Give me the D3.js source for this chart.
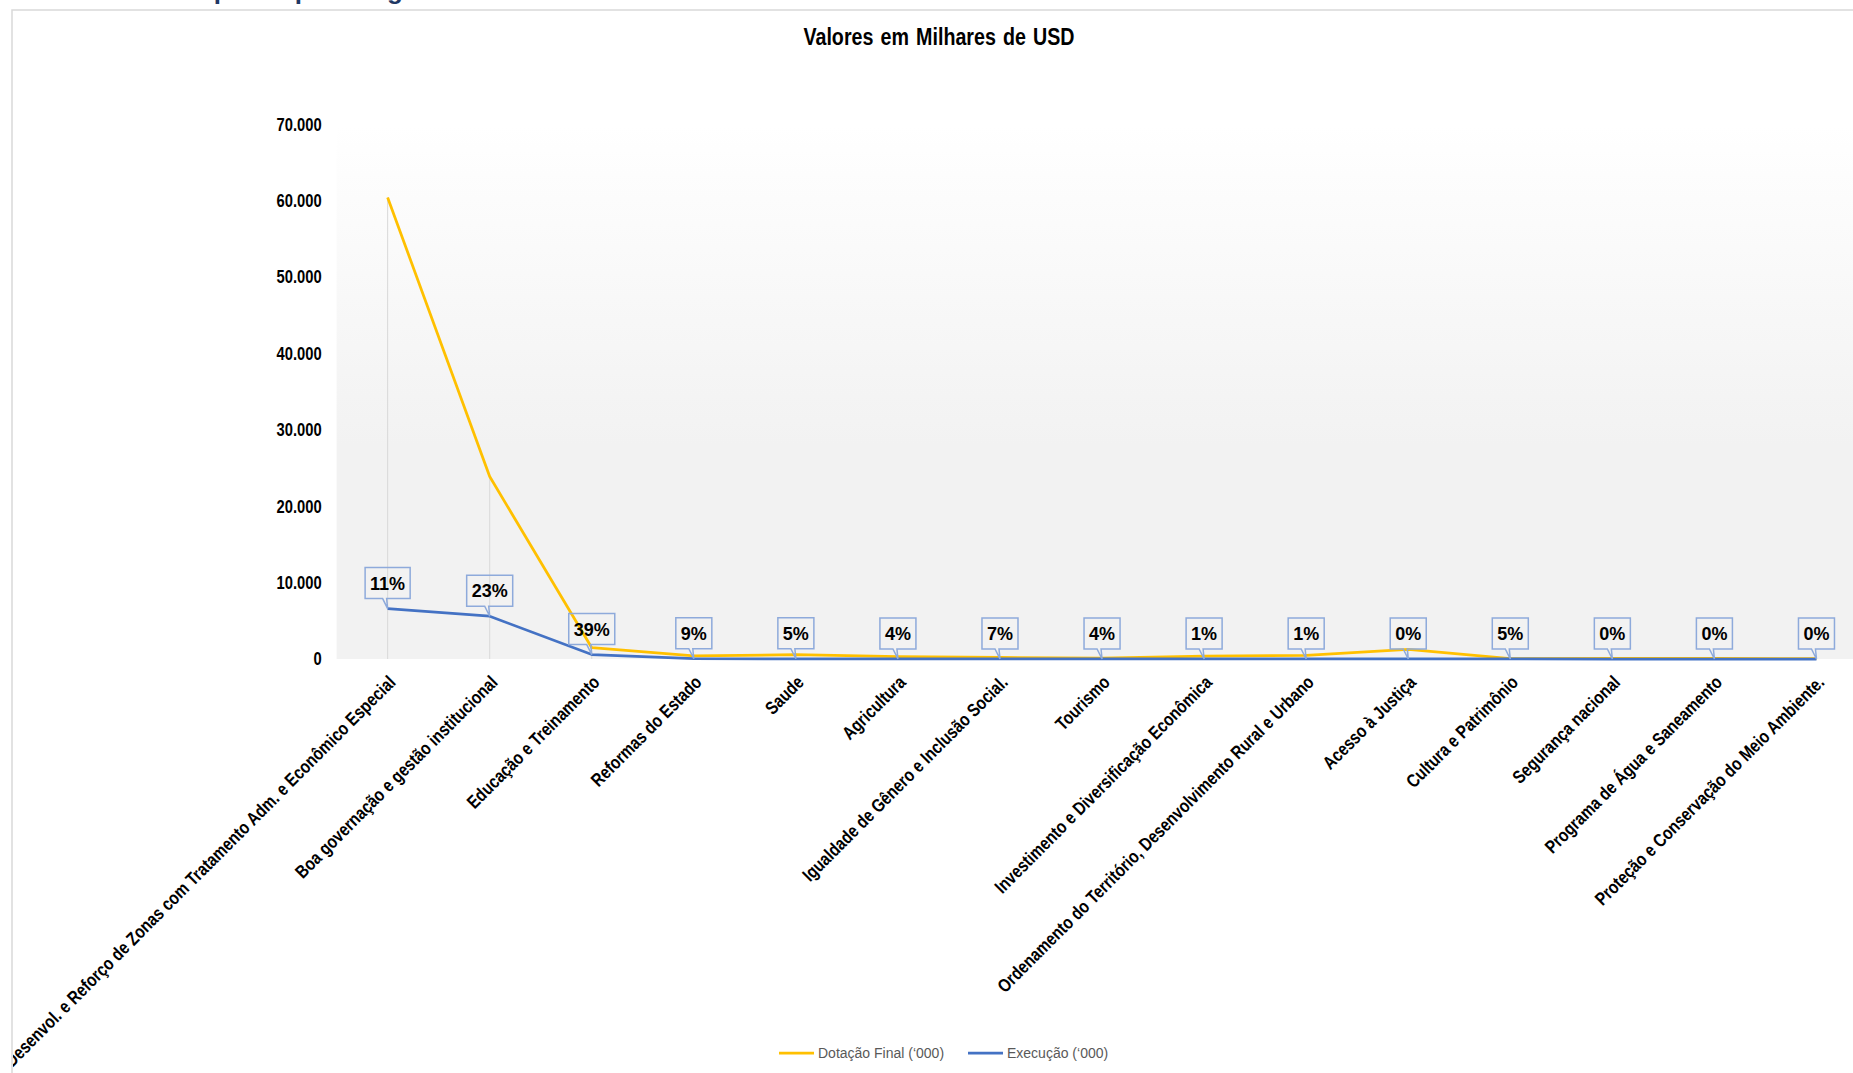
<!DOCTYPE html>
<html>
<head>
<meta charset="utf-8">
<script src="https://cdn.jsdelivr.net/npm/d3@7"></script>
<style>
  body { margin: 0; background: #fff; overflow: hidden; }
  text { font-family: "Liberation Sans", Arial, sans-serif; }
</style>
</head>
<body>
<div id="chart"></div>
<script>
const categories = [
  "Desenvol. e Reforço de Zonas com Tratamento Adm. e Econômico Especial",
  "Boa governação e gestão institucional",
  "Educação e Treinamento",
  "Reformas do Estado",
  "Saude",
  "Agricultura",
  "Igualdade de Gênero e Inclusão Social.",
  "Tourismo",
  "Investimento e Diversificação Econômica",
  "Ordenamento do Território, Desenvolvimento Rural e Urbano",
  "Acesso à Justiça",
  "Cultura e Patrimônio",
  "Segurança nacional",
  "Programa de Água e Saneamento",
  "Proteção e Conservação do Meio Ambiente."
];

// valores em milhares de USD
const dotacao = [60450, 23900, 1480, 420, 570, 320, 200, 100, 380, 460, 1250, 60, 80, 70, 40];
const execucao = [6600, 5600, 580, 38, 28, 13, 14, 4, 4, 5, 3, 3, 0, 0, 0];

const yTicks = [0, 10000, 20000, 30000, 40000, 50000, 60000, 70000];

const seriesNames = ["Dotação Final (‘000)", "Execução (‘000)"];
const seriesColors = ["#ffc000", "#4472c4"];

const width = 1853;
const height = 1073;
const narrow = "scale(0.82,1)";

const pt = d3.formatLocale({ decimal: ",", thousands: ".", grouping: [3], currency: ["", ""] });
const fmtNum = pt.format(",.0f");
const fmtPct = d3.format(".0%");

const svg = d3.select("#chart")
  .append("svg")
  .attr("width", width)
  .attr("height", height);

// heading of the page, cut off at the top
svg.append("text")
  .attr("x", 166)
  .attr("y", -1)
  .attr("fill", "#1f3864")
  .attr("font-size", 26)
  .attr("font-weight", "bold")
  .text("Despesas por Programa");

// chart frame
svg.append("rect")
  .attr("x", 12)
  .attr("y", 10)
  .attr("width", width)
  .attr("height", height)
  .attr("fill", "#fff")
  .attr("stroke", "#d9d9d9")
  .attr("stroke-width", 1.5);

const defs = svg.append("defs");
defs.append("clipPath")
  .attr("id", "frame")
  .append("rect")
  .attr("x", 13)
  .attr("y", 11)
  .attr("width", width)
  .attr("height", height);

const grad = defs.append("linearGradient")
  .attr("id", "plotBg")
  .attr("x1", 0).attr("y1", 0)
  .attr("x2", 0).attr("y2", 1);
grad.append("stop").attr("offset", 0).attr("stop-color", "#ffffff");
grad.append("stop").attr("offset", 0.6).attr("stop-color", "#f2f2f2");
grad.append("stop").attr("offset", 1).attr("stop-color", "#f2f2f2");

svg.append("text")
  .attr("transform", "translate(939,45) " + narrow)
  .attr("text-anchor", "middle")
  .attr("font-size", 24)
  .attr("font-weight", "bold")
  .attr("word-spacing", 2)
  .attr("fill", "#000")
  .text("Valores em Milhares de USD");

const x = d3.scalePoint()
  .domain(categories)
  .range([336.6, 1867.5])
  .padding(0.5);

const y = d3.scaleLinear()
  .domain([0, 70000])
  .range([659, 124.5]);

svg.append("rect")
  .attr("x", x.range()[0])
  .attr("y", y(70000))
  .attr("width", x.range()[1] - x.range()[0])
  .attr("height", y(0) - y(70000))
  .attr("fill", "url(#plotBg)");

// drop lines
svg.append("g")
  .selectAll("line")
  .data(categories)
  .enter()
  .append("line")
  .attr("x1", d => x(d))
  .attr("x2", d => x(d))
  .attr("y1", (d, i) => y(Math.max(dotacao[i], execucao[i])))
  .attr("y2", y(0))
  .attr("stroke", "#d9d9d9")
  .attr("stroke-width", 1);

const yAxis = svg.append("g")
  .attr("transform", `translate(${x.range()[0]},0)`)
  .call(d3.axisLeft(y).tickValues(yTicks).tickFormat(fmtNum).tickSize(0).tickPadding(0));
yAxis.select(".domain").remove();
yAxis.selectAll("text")
  .attr("x", 0)
  .attr("transform", "translate(-15,0) " + narrow)
  .attr("font-family", "Liberation Sans, Arial, sans-serif")
  .attr("font-size", 18)
  .attr("font-weight", "bold")
  .attr("fill", "#000");

const xAxis = svg.append("g")
  .attr("transform", `translate(0,${y(0)})`)
  .attr("clip-path", "url(#frame)")
  .call(d3.axisBottom(x).tickSize(0).tickSizeOuter(0));
xAxis.select(".domain")
  .attr("stroke", "#d9d9d9")
  .attr("stroke-width", 1.2);
xAxis.selectAll("text")
  .attr("x", 0)
  .attr("y", 0)
  .attr("dy", 0)
  .attr("transform", "translate(8.5,24.5) rotate(-45) " + narrow)
  .attr("text-anchor", "end")
  .attr("font-family", "Liberation Sans, Arial, sans-serif")
  .attr("font-size", 18.5)
  .attr("font-weight", "bold")
  .attr("fill", "#000");

const line = d3.line()
  .x((d, i) => x(categories[i]))
  .y(d => y(d));

[dotacao, execucao].forEach((values, s) => {
  svg.append("path")
    .datum(values)
    .attr("d", line)
    .attr("fill", "none")
    .attr("stroke", seriesColors[s])
    .attr("stroke-width", 2.75)
    .attr("stroke-linejoin", "round");
});

// callouts with execution rate
const labels = svg.append("g")
  .selectAll("g")
  .data(categories)
  .enter()
  .append("g");

labels.each(function (d, i) {
  const g = d3.select(this);
  const px = x(d);
  const py = y(execucao[i]);
  const bottom = py - 10;
  const top = bottom - 31;
  const txt = g.append("text")
    .attr("x", px)
    .attr("y", (top + bottom) / 2)
    .attr("dy", "0.36em")
    .attr("text-anchor", "middle")
    .attr("font-size", 18)
    .attr("font-weight", "bold")
    .attr("fill", "#000")
    .text(fmtPct(execucao[i] / dotacao[i]));
  const w = txt.node().getComputedTextLength() + 10;
  const left = px - w / 2;
  const right = px + w / 2;
  g.insert("path", "text")
    .attr("d", `M${left},${top}H${right}V${bottom}H${px - 1}L${px},${py}L${px - 5},${bottom}H${left}Z`)
    .attr("fill", "none")
    .attr("stroke", "#8eaadb")
    .attr("stroke-width", 1.5);
});

// legend
const legend = svg.append("g")
  .selectAll("g")
  .data(seriesNames)
  .enter()
  .append("g")
  .attr("transform", (d, i) => `translate(${[779, 968][i]},1053)`);

legend.append("line")
  .attr("x1", 0)
  .attr("x2", 35)
  .attr("stroke", (d, i) => seriesColors[i])
  .attr("stroke-width", 2.75);

legend.append("text")
  .attr("x", 39)
  .attr("dy", "0.35em")
  .attr("font-size", 14)
  .attr("fill", "#595959")
  .text(d => d);
</script>
</body>
</html>
